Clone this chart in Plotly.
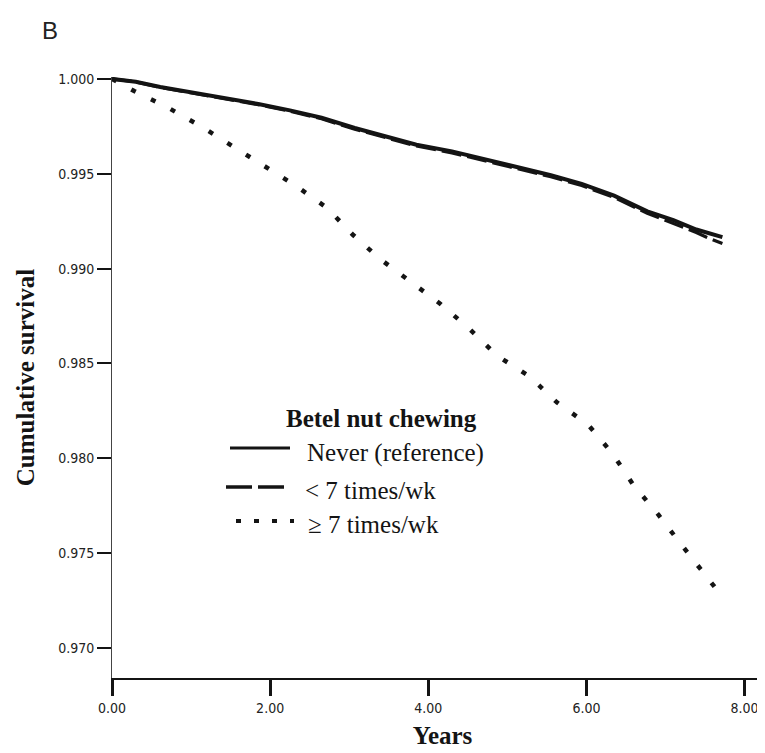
import plotly.graph_objects as go

# ---- data ----
years_never = [0, 0.3, 0.61, 1.0, 1.43, 1.85, 2.25, 2.65, 3.07, 3.45, 3.85, 4.30,
               4.7, 5.12, 5.55, 5.94, 6.35, 6.77, 7.1, 7.39, 7.55, 7.72]
surv_never = [1.0, 0.99985, 0.99957, 0.99930, 0.99901, 0.99868, 0.99834, 0.99795,
              0.99741, 0.99700, 0.99653, 0.99618, 0.99578, 0.99535, 0.99492, 0.99447,
              0.99385, 0.99302, 0.99255, 0.99206, 0.99185, 0.99166]

years_lt7 = [0, 0.3, 0.61, 1.0, 1.43, 1.85, 2.25, 2.65, 3.07, 3.45, 3.85, 4.30,
             4.7, 5.12, 5.55, 5.94, 6.35, 6.77, 7.1, 7.39, 7.55, 7.72]
surv_lt7 = [1.0, 0.99984, 0.99955, 0.99927, 0.99898, 0.99864, 0.99830, 0.99790,
            0.99735, 0.99693, 0.99646, 0.99610, 0.99570, 0.99527, 0.99484, 0.99438,
            0.99375, 0.99292, 0.99240, 0.99190, 0.99160, 0.99132]

years_ge7 = [0, 0.28, 0.71, 1.13, 1.53, 1.92, 2.33, 2.72, 3.05, 3.39, 3.77, 4.15,
             4.52, 4.87, 5.28, 5.63, 6.02, 6.33, 6.60, 6.91, 7.21, 7.50, 7.69]
surv_ge7 = [1.0, 0.99936, 0.99848, 0.99749, 0.99644, 0.99540, 0.99435, 0.99320,
            0.99177, 0.99051, 0.98936, 0.98815, 0.98683, 0.98541, 0.98432, 0.98294,
            0.98178, 0.98025, 0.97856, 0.97703, 0.97540, 0.97384, 0.97286]

series_names = ["Never (reference)", "< 7 times/wk", "\u2265 7 times/wk"]
legend_title = "Betel nut chewing"
x_ticks = [0, 2, 4, 6, 8]
y_ticks = [0.970, 0.975, 0.980, 0.985, 0.990, 0.995, 1.000]

# ---- layout geometry (pixels) ----
W_FIG, H_FIG = 765, 753
L, R, T, B = 104, 765, 69, 670


def px(xp):
    return (xp - L) / (R - L)


def py(yp):
    return (B - yp) / (B - T)


INK = "#141414"
SERIF = "Liberation Serif, Times New Roman, serif"
SANS = "Liberation Sans, Arial, sans-serif"
NARROW = "Liberation Sans Narrow, DejaVu Sans Condensed, Arial Narrow, sans-serif"

fig = go.Figure()
fig.add_trace(go.Scatter(x=years_never, y=surv_never, mode="lines", name=series_names[0],
                         line=dict(color=INK, width=4)))
fig.add_trace(go.Scatter(x=years_lt7, y=surv_lt7, mode="lines", name=series_names[1],
                         line=dict(color=INK, width=3.2, dash="20px,6px")))
fig.add_trace(go.Scatter(x=years_ge7, y=surv_ge7, mode="lines", name=series_names[2],
                         line=dict(color=INK, width=4.5, dash="5px,17px")))

# manual legend (symbols + text) in paper coordinates
shapes = [
    dict(type="line", xref="paper", yref="paper", x0=px(222), x1=px(282), y0=py(440), y1=py(440),
         line=dict(color=INK, width=3)),
    dict(type="line", xref="paper", yref="paper", x0=px(218), x1=px(282), y0=py(479), y1=py(479),
         line=dict(color=INK, width=3.5, dash="26px,6px")),
    dict(type="line", xref="paper", yref="paper", x0=px(228), x1=px(286), y0=py(513), y1=py(513),
         line=dict(color=INK, width=4, dash="5px,13px")),
]
annotations = [
    dict(text=legend_title, xref="paper", yref="paper", x=px(276), y=py(411), xanchor="left",
         yanchor="middle", showarrow=False, font=dict(family=SERIF, size=25, color=INK, weight="bold")),
    dict(text=series_names[0], xref="paper", yref="paper", x=px(297), y=py(445), xanchor="left",
         yanchor="middle", showarrow=False, font=dict(family=SERIF, size=25, color=INK)),
    dict(text=series_names[1], xref="paper", yref="paper", x=px(295), y=py(482), xanchor="left",
         yanchor="middle", showarrow=False, font=dict(family=SERIF, size=25, color=INK)),
    dict(text=series_names[2], xref="paper", yref="paper", x=px(298), y=py(516), xanchor="left",
         yanchor="middle", showarrow=False, font=dict(family=SERIF, size=25, color=INK)),
    dict(text="B", xref="paper", yref="paper", x=px(42), y=py(22), xanchor="center",
         yanchor="middle", showarrow=False, font=dict(family=SANS, size=24, color="#222")),
]

fig.update_layout(
    width=W_FIG, height=H_FIG,
    margin=dict(l=L, r=W_FIG - R, t=T, b=H_FIG - B, autoexpand=False),
    paper_bgcolor="white", plot_bgcolor="white",
    showlegend=False,
    shapes=shapes, annotations=annotations,
    xaxis=dict(range=[0, 8.36], tickvals=x_ticks, tickformat=".2f",
               showgrid=False, zeroline=False, showline=True, linecolor=INK, linewidth=2,
               ticks="outside", ticklen=16, tickwidth=2.5, tickcolor=INK,
               tickfont=dict(family=NARROW, size=14, color="#222"),
               title=dict(text="Years", standoff=12,
                          font=dict(family=SERIF, size=25, color=INK, weight="bold"))),
    yaxis=dict(range=[0.96842, 1.0001], tickvals=y_ticks, tickformat=".3f",
               showgrid=False, zeroline=False, showline=True, linecolor="#444", linewidth=1,
               ticks="outside", ticklen=14, tickwidth=1.5, tickcolor=INK,
               tickfont=dict(family=NARROW, size=14, color="#222"),
               title=dict(text="Cumulative survival", standoff=16,
                          font=dict(family=SERIF, size=25, color=INK, weight="bold"))),
)

fig.write_html("out.html")
